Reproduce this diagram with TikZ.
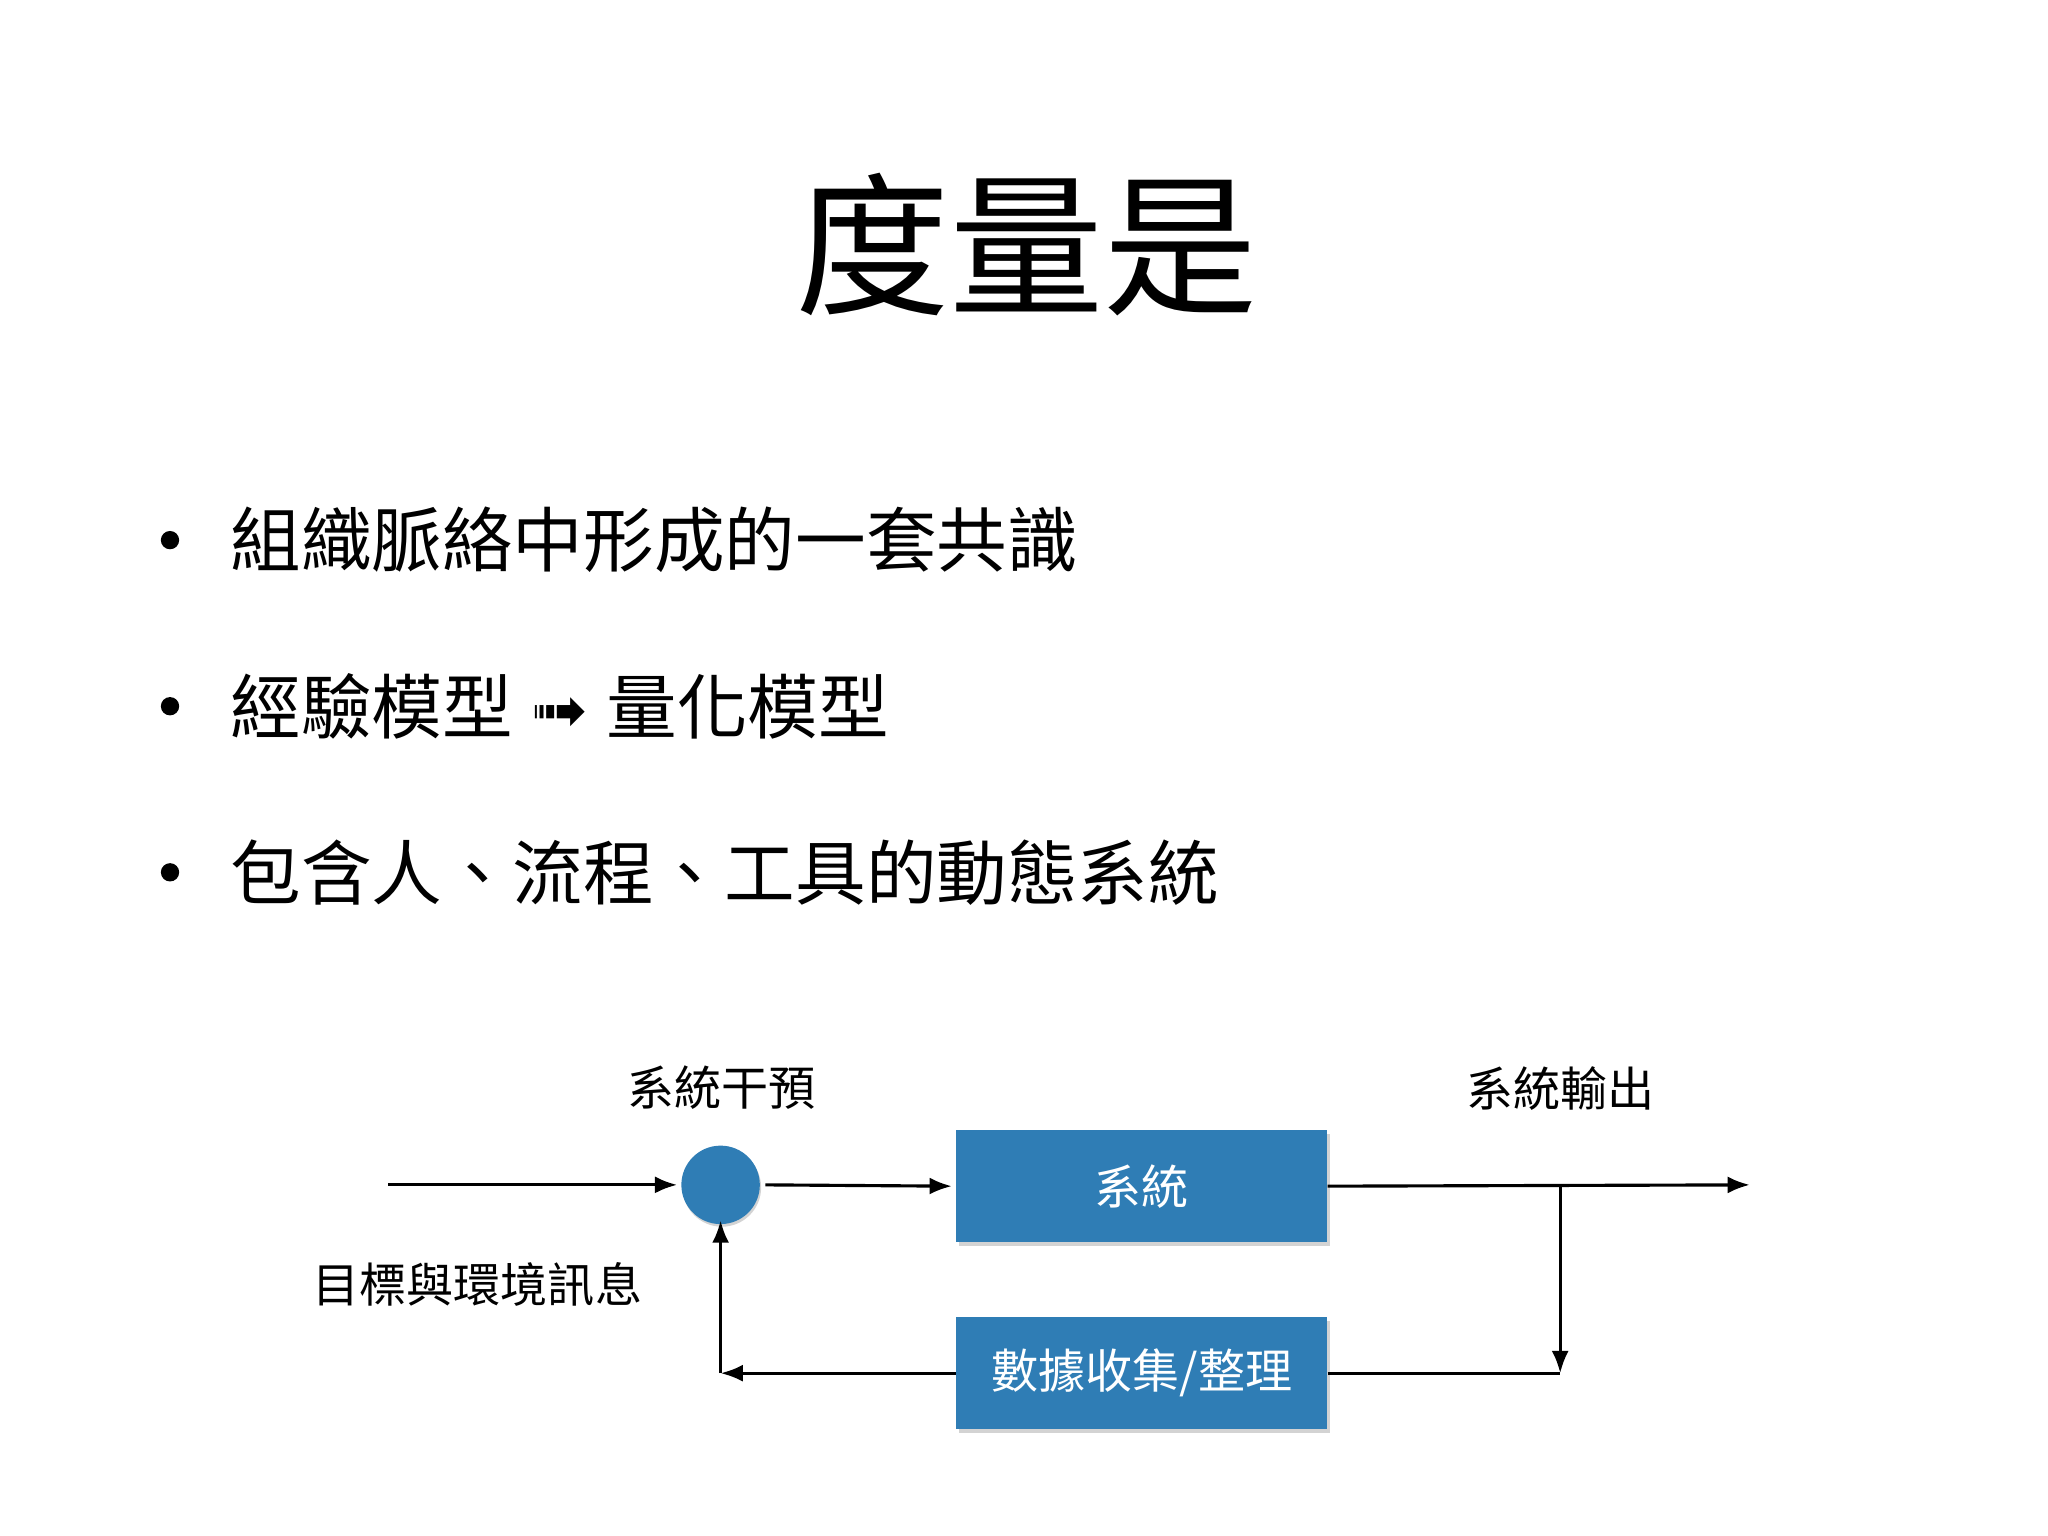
\documentclass[tikz,border=0pt]{standalone}
\usepackage{fontspec}
\setmainfont{Noto Sans CJK TC}
\newfontfamily\symf{DejaVu Sans}
\usetikzlibrary{arrows.meta,shadows}
\definecolor{boxblue}{HTML}{2F7DB5}
\tikzset{
  blk/.style={fill=boxblue,text=white,minimum width=284pt,minimum height=86pt,inner sep=0pt,font=\fontsize{36}{40}\selectfont,drop shadow={shadow xshift=2pt,shadow yshift=-3pt,opacity=0.35}},
  lbl/.style={font=\fontsize{36}{40}\selectfont,inner sep=0pt},
  bul/.style={anchor=west,font=\fontsize{54}{60}\selectfont,inner sep=0pt},
  con/.style={line width=2.4pt,-{Latex[length=17pt,width=13pt]}},
  ln/.style={line width=2.4pt}
}
\begin{document}
\begin{tikzpicture}[x=1pt,y=-1pt]
\useasboundingbox (0,0) rectangle (1566,1174.5);
\node[font=\fontsize{118}{130}\selectfont,inner sep=0pt] (title) at (785,187) {度量是};
\foreach \yy/\tx [count=\i] in {413/組織脈絡中形成的一套共識,540/{經驗模型\hspace{14pt}{\symf\fontsize{52}{52}\selectfont ➟}\hspace{14pt}量化模型},667/包含人、流程、工具的動態系統}{
  \fill (130,\yy) circle (7pt);
  \node[bul] (b\i) at (176,\yy) {\tx};
}
\node[circle,fill=boxblue,minimum size=60pt,inner sep=0pt,drop shadow={shadow xshift=1pt,shadow yshift=-2pt,opacity=0.35}] (c) at (551,906) {};
\node[blk] (sys) at (873,907) {系統};
\node[blk] (data) at (873,1050) {數據收集/整理};
\coordinate (in) at (297,906);
\coordinate (out) at (1338,906);
\coordinate (br) at (1193,906);
\coordinate (brd) at (1193,1050);
\coordinate (fb) at (551,1050);
\draw[con] (in) -- ([xshift=-3pt]c.west);
\draw[con] ([xshift=4pt]c.east) -- ([xshift=-3pt]sys.west);
\draw[con] (sys.east) -- (out);
\draw[con] (br) -- (brd);
\draw[ln] (data.east) -- (brd);
\draw[con] (data.west) -- (fb);
\draw[con] (fb) -- ([yshift=3pt]c.south);
\node[lbl] (l1) at (552,832) {系統干預};
\node[lbl] (l2) at (1193,832) {系統輸出};
\node[lbl] (l3) at (365,982) {目標與環境訊息};
\end{tikzpicture}
\end{document}
